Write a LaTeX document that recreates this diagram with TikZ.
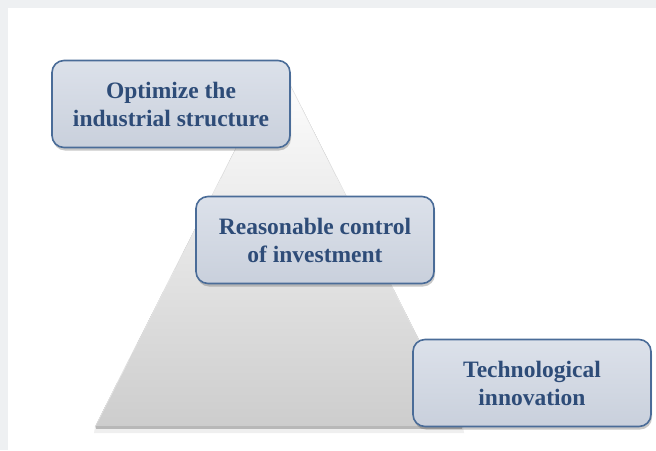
\documentclass[tikz,border=0pt]{standalone}
\usepackage{fontspec}
\setmainfont{Liberation Serif}
\usetikzlibrary{shadows}
\definecolor{bordr}{HTML}{4A6C98}
\definecolor{boxtop}{HTML}{DCE1EA}
\definecolor{boxbot}{HTML}{C9D0DC}
\definecolor{txtc}{HTML}{2E4C78}
\definecolor{framec}{HTML}{EEF0F2}
\definecolor{pyrbot}{HTML}{CDCDCD}
\definecolor{pyrmid}{HTML}{EAEAEA}
\begin{document}
\begin{tikzpicture}[x=1pt,y=-1pt,
  box/.style={rounded corners=12pt, draw=bordr, line width=1.6pt,
    top color=boxtop, bottom color=boxbot,
    minimum width=238pt, minimum height=87pt, align=center,
    inner sep=0pt,
    font=\bfseries\fontsize{23.5}{28}\selectfont, text=txtc,
    drop shadow={shadow xshift=1pt, shadow yshift=-3pt, opacity=0.3, fill=black!70}}]
  \useasboundingbox (0,0) rectangle (656,450);
  \fill[framec] (0,0) rectangle (656,450);
  \fill[white] (8,8) rectangle (656,450);
  % pyramid
  \fill[top color=white, middle color=pyrmid, bottom color=pyrbot] (279,63) -- (463,427) -- (95,427) -- cycle;
  \draw[black!8, line width=0.6pt] (95,427) -- (279,63) -- (463,427);
  \fill[black!10, opacity=0.6] (95,427) -- (463,427) -- (464,433) -- (94,433) -- cycle;
  \draw[black!28, line width=2.5pt] (96,427.5) -- (462,427.5);
  % boxes
  \node[box] (n1) at (171,104) {Optimize the\\industrial structure};
  \node[box] (n2) at (315,240) {Reasonable control\\of investment};
  \node[box] (n3) at (532,383) {Technological\\innovation};
\end{tikzpicture}
\end{document}
